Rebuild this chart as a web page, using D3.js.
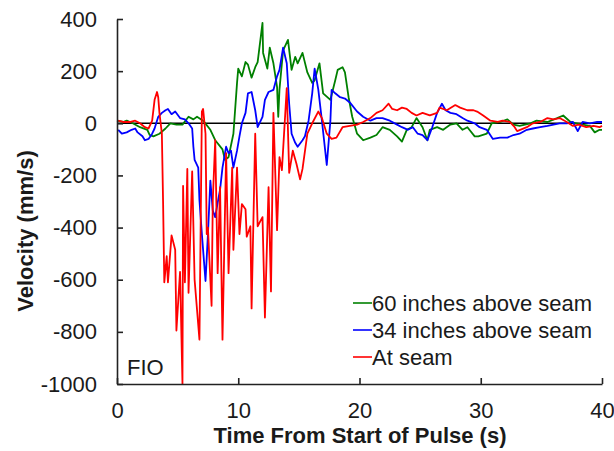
<!DOCTYPE html>
<html>
<head>
<meta charset="utf-8">
<script src="https://cdn.jsdelivr.net/npm/d3@7"></script>
<style>
  body { margin: 0; background: #fff; }
  text { font-family: "Liberation Sans", Arial, sans-serif; fill: #1a1a1a; }
</style>
</head>
<body>
<div id="chart"></div>
<script>
var w=614
var h=451

// axis ticks
var xTicks=[0,10,20,30,40]
var yTicks=[-1000,-800,-600,-400,-200,0,200,400]

// series: [time (s), velocity (mm/s)]
var green60=[[0,10],[0.5,5],[0.8,10],[1.3,0],[1.9,-15],[2.5,-25],[2.7,-45],[3.0,-50],[3.5,-40],[4.0,-20],
  [4.4,0],[4.9,-5],[5.4,-5],[5.9,25],[6.3,15],[6.6,25],[7.1,10],[7.7,-25],[8.1,-65],[8.7,-100],
  [8.9,-140],[9.2,-130],[9.6,-40],[9.9,155],[10.0,210],[10.3,180],[10.6,235],[10.8,225],[11.1,175],[11.4,215],
  [11.6,235],[12.0,385],[12.05,270],[12.4,210],[12.6,290],[12.9,230],[13.2,140],[13.3,25],[13.4,130],[13.7,280],
  [14.1,320],[14.4,205],[14.7,255],[14.9,230],[15.3,270],[15.7,195],[16.1,155],[16.3,165],[16.7,230],[17.0,115],
  [17.6,90],[18.0,165],[18.2,205],[18.6,215],[18.8,195],[19.1,100],[19.4,25],[19.8,-40],[20.3,-65],[20.9,-55],
  [21.4,-45],[21.9,-15],[22.5,-25],[23.1,-50],[23.5,-70],[23.9,-25],[24.3,-15],[24.7,20],[25.2,-15],[25.6,-65],
  [25.8,-25],[26.4,-15],[26.9,-25],[27.5,-5],[28.0,0],[28.5,-25],[28.9,-15],[29.5,-50],[29.8,-50],[30.5,-40],
  [30.9,0],[31.6,5],[32.2,15],[32.7,-5],[33.2,-10],[34.1,0],[34.6,10],[35.5,5],[36.3,20],[36.8,30],
  [37.4,5],[37.9,0],[38.4,-5],[39.0,-10],[39.4,-35],[39.8,-25],[40,-25]]

var blue34=[[0.1,-25],[0.4,-40],[0.8,-35],[1.2,-25],[1.5,-20],[1.7,-35],[2.1,-50],[2.3,-65],[2.6,-60],[2.9,-40],
  [3.1,-20],[3.4,25],[3.7,40],[4.0,50],[4.2,55],[4.5,35],[4.8,45],[5.2,20],[5.6,15],[5.9,0],
  [6.2,-20],[6.3,-90],[6.4,-140],[6.7,-170],[6.8,-295],[7.0,-425],[7.3,-605],[7.5,-425],[7.7,-220],[7.9,-335],
  [8.1,-360],[8.3,-305],[8.5,-255],[8.7,-170],[9.0,-90],[9.2,-115],[9.4,-105],[9.6,-170],[9.9,-105],[10.1,-50],
  [10.3,0],[10.6,40],[10.8,115],[11.1,120],[11.4,50],[11.6,-15],[12.0,25],[12.2,90],[12.5,120],[12.9,128],
  [13.2,180],[13.4,205],[13.7,290],[14.0,230],[14.2,75],[14.4,-40],[14.7,-75],[14.9,-90],[15.3,-65],[15.5,-50],
  [15.8,10],[16.1,115],[16.3,210],[16.6,130],[16.9,10],[17.3,-160],[17.6,10],[17.7,128],[18.0,115],[18.4,100],
  [18.8,95],[19.2,80],[19.8,45],[20.3,25],[20.9,10],[21.4,20],[21.9,20],[22.5,10],[23.1,-5],[23.5,-15],
  [24.0,-25],[24.4,-15],[24.8,-40],[25.2,-45],[25.6,-65],[26.0,-15],[26.4,40],[26.8,75],[27.1,50],[27.5,40],
  [28.0,35],[28.5,20],[28.9,10],[29.5,0],[29.9,-15],[30.5,-25],[31.0,-60],[31.6,-55],[32.2,-55],[32.7,-45],
  [33.2,-40],[33.8,-25],[34.3,-20],[34.9,-15],[35.5,-10],[36.0,-5],[36.5,0],[37.1,0],[37.6,5],[38.0,-30],
  [38.4,5],[39.0,0],[39.6,5],[40,5]]

var atSeam=[[0.1,10],[0.5,5],[1.1,5],[1.5,10],[1.9,0],[2.3,-15],[2.6,-20],[2.9,10],[3.1,90],[3.3,120],
  [3.4,100],[3.5,40],[3.7,-40],[3.8,-300],[3.9,-610],[4.1,-510],[4.2,-610],[4.5,-430],[4.8,-485],[4.9,-795],
  [5.2,-570],[5.4,-1000],[5.45,-240],[5.6,-610],[5.8,-175],[5.9,-650],[6.2,-185],[6.4,-600],[6.8,-830],[7.0,45],
  [7.1,55],[7.3,-40],[7.4,-425],[7.5,-400],[7.8,-700],[7.9,-295],[8.1,-65],[8.3,-575],[8.5,-245],[8.7,-830],
  [9.0,-115],[9.2,-575],[9.5,-170],[9.6,-485],[9.9,-170],[10.1,-425],[10.3,-310],[10.6,-330],[10.7,-435],[11.0,-395],
  [11.1,-710],[11.4,-40],[11.6,-395],[12.0,-360],[12.2,-745],[12.5,-245],[12.7,-645],[12.9,40],[13.2,-410],[13.4,-130],
  [13.6,-180],[14.0,135],[14.2,-190],[14.5,-105],[14.8,-155],[15.1,-215],[15.3,-175],[15.7,-40],[16.1,0],[16.6,45],
  [16.9,20],[17.3,-40],[17.7,-60],[18.1,-55],[18.6,-15],[19.2,-10],[19.8,-5],[20.3,5],[20.9,20],[21.4,40],
  [21.9,50],[22.4,75],[22.7,55],[23.1,50],[23.5,60],[23.9,55],[24.3,40],[24.7,30],[25.2,40],[25.8,30],
  [26.4,40],[26.6,60],[27.2,50],[27.9,70],[28.3,60],[28.9,50],[29.4,50],[29.7,45],[30.2,30],[30.8,10],
  [31.4,5],[31.8,10],[32.4,5],[32.8,-15],[33.0,-30],[33.8,-15],[34.3,0],[34.9,5],[35.5,20],[36.0,15],
  [36.5,20],[37.1,5],[37.6,-10],[38.1,-5],[38.7,-15],[39.3,-10],[39.8,-15],[40,-10]]

var seriesNames=["60 inches above seam","34 inches above seam","At seam"]
var seriesColors=["#008000","#0000ff","#ff0000"]
var seriesData=[green60,blue34,atSeam]

var svg=d3.select("#chart")
          .append("svg")
          .attr("width",w)
          .attr("height",h);

var xScale=d3.scaleLinear()
             .domain([0,40])
             .range([117,602]);

var yScale=d3.scaleLinear()
             .domain([-1000,400])
             .range([384,19]);

//zero line
svg.append("line")
   .attr("x1",xScale(0))
   .attr("x2",xScale(40))
   .attr("y1",yScale(0))
   .attr("y2",yScale(0))
   .attr("stroke","#000")
   .attr("stroke-width",1.5);

//series lines
var line=d3.line()
           .x(function(d) {return xScale(d[0]);})
           .y(function(d) {return yScale(d[1]);});

svg.append("g")
   .attr("class","series")
   .selectAll("path")
   .data(seriesData)
   .enter()
   .append("path")
   .attr("d",line)
   .attr("fill","none")
   .attr("stroke",function(d,i) {return seriesColors[i];})
   .attr("stroke-width",1.8)
   .attr("stroke-linejoin","round");

//axes
var xAxis=d3.axisBottom(xScale)
            .tickValues(xTicks)
            .tickSizeInner(-6)
            .tickSizeOuter(0)
            .tickPadding(18);

var yAxis=d3.axisLeft(yScale)
            .tickValues(yTicks)
            .tickFormat(function(d) {return String(d);})
            .tickSizeInner(-6)
            .tickSizeOuter(0)
            .tickPadding(20);

svg.append("g")
   .attr("class","axis")
   .attr("transform","translate(0,"+yScale(-1000)+")")
   .call(xAxis);

svg.append("g")
   .attr("class","axis")
   .attr("transform","translate("+xScale(0)+",0)")
   .call(yAxis);

svg.selectAll(".axis path, .axis line")
   .attr("stroke","#222")
   .attr("stroke-width",1.6);
svg.selectAll(".axis text")
   .attr("font-size","22px")
   .attr("font-family","Liberation Sans, Arial, sans-serif")
   .attr("fill","#1a1a1a");

//axis labels
svg.append("text")
   .attr("x",360)
   .attr("y",443)
   .attr("text-anchor","middle")
   .attr("font-size","22px")
   .attr("font-weight","bold")
   .text("Time From Start of Pulse (s)");

svg.append("text")
   .attr("transform","translate(33,231) rotate(-90)")
   .attr("text-anchor","middle")
   .attr("font-size","22px")
   .attr("font-weight","bold")
   .text("Velocity (mm/s)");

//FIO label
svg.append("text")
   .attr("x",127)
   .attr("y",375)
   .attr("font-size","22px")
   .text("FIO");

//legend
var legend=svg.append("g")
              .attr("class","legend");
seriesNames.forEach(function(name,i) {
    var ly=303+i*27;
    legend.append("line")
          .attr("x1",353)
          .attr("x2",372)
          .attr("y1",ly)
          .attr("y2",ly)
          .attr("stroke",seriesColors[i])
          .attr("stroke-width",1.6);
    legend.append("text")
          .attr("x",372)
          .attr("y",ly)
          .attr("dy","0.36em")
          .attr("font-size","22px")
          .text(name);
});
</script>
</body>
</html>
